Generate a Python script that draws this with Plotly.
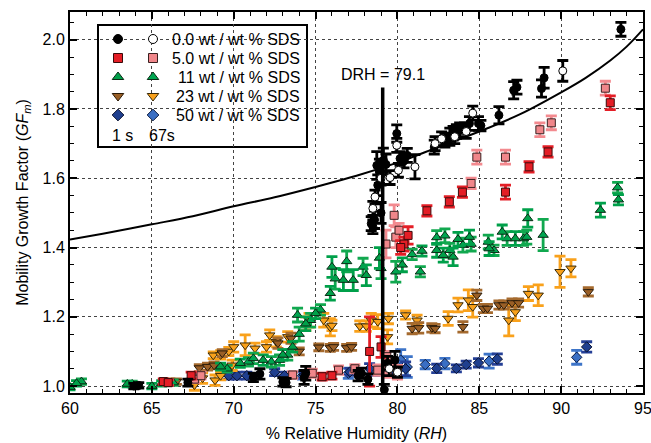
import plotly.graph_objects as go

# ---------------------------------------------------------------------------
# Measured mobility growth factors: (RH %, GFm, +/- uncertainty)
# ---------------------------------------------------------------------------
sds00_1s = [(63.9, 1.000, 0.008), (64.2, 1.002, 0.008), (67.2, 1.010, 0.010),
            (71.2, 1.025, 0.012), (71.6, 1.035, 0.015), (73.0, 1.012, 0.012),
            (73.2, 1.010, 0.012), (74.3, 1.025, 0.020), (74.4, 1.037, 0.020),
            (77.6, 1.030, 0.015), (77.8, 1.037, 0.015), (78.2, 1.020, 0.015),
            (78.4, 1.469, 0.020), (78.5, 1.460, 0.020), (78.6, 1.480, 0.025),
            (78.74, 1.637, 0.040), (78.8, 1.580, 0.030), (78.9, 1.620, 0.035),
            (79.0, 1.500, 0.030), (79.14, 1.652, 0.035), (79.3, 1.640, 0.030),
            (79.2, 0.990, 0.015), (79.4, 1.066, 0.020), (79.85, 1.075, 0.025),
            (79.96, 1.729, 0.025), (80.16, 1.657, 0.020), (80.6, 1.666, 0.020),
            (80.4, 1.650, 0.020), (82.25, 1.690, 0.020), (82.9, 1.710, 0.020),
            (83.2, 1.720, 0.025), (83.4, 1.730, 0.020), (83.6, 1.735, 0.020),
            (83.8, 1.740, 0.020), (84.1, 1.745, 0.015), (84.4, 1.758, 0.020),
            (84.95, 1.758, 0.020), (85.1, 1.752, 0.015), (86.2, 1.782, 0.025),
            (87.1, 1.854, 0.025), (87.3, 1.863, 0.020), (88.8, 1.859, 0.025),
            (88.96, 1.890, 0.030), (93.65, 2.030, 0.020)]

sds00_67s = [(78.5, 1.513, 0.020), (78.63, 1.546, 0.020), (79.0, 1.600, 0.020),
             (79.55, 1.602, 0.020), (79.96, 1.695, 0.020), (80.06, 1.623, 0.020),
             (81.07, 1.633, 0.035), (82.3, 1.700, 0.020), (82.7, 1.714, 0.020),
             (83.5, 1.720, 0.020), (84.2, 1.735, 0.020), (84.6, 1.788, 0.020),
             (90.1, 1.910, 0.030), (79.5, 1.050, 0.020), (80.0, 1.040, 0.015)]

sds05_1s = [(65.7, 1.013, 0.008), (66.0, 1.010, 0.008), (67.4, 1.030, 0.010),
            (75.4, 1.027, 0.010), (76.0, 1.030, 0.010), (78.3, 1.100, 0.100),
            (79.0, 1.113, 0.030), (80.4, 1.410, 0.020), (80.65, 1.435, 0.025),
            (80.2, 1.400, 0.020), (81.8, 1.506, 0.015), (83.17, 1.532, 0.015),
            (83.97, 1.560, 0.015), (86.6, 1.560, 0.020), (88.04, 1.633, 0.015),
            (89.2, 1.676, 0.015), (93.0, 1.818, 0.020)]

sds05_67s = [(66.0, 1.010, 0.008), (67.6, 1.020, 0.010), (68.0, 1.030, 0.010),
             (73.6, 1.032, 0.010), (74.8, 1.037, 0.012), (76.4, 1.046, 0.012),
             (77.4, 1.050, 0.012), (78.8, 1.046, 0.015), (79.35, 1.085, 0.015),
             (79.4, 1.040, 0.015), (80.0, 1.040, 0.020), (79.3, 1.410, 0.040),
             (79.8, 1.493, 0.030), (79.9, 1.430, 0.030), (80.1, 1.450, 0.020),
             (84.5, 1.585, 0.015), (84.85, 1.661, 0.020), (86.6, 1.661, 0.020),
             (88.7, 1.740, 0.020), (89.4, 1.760, 0.020), (92.7, 1.860, 0.020)]

sds11_1s = [(60.0, 0.997, 0.008), (60.4, 1.008, 0.008), (63.5, 1.006, 0.008),
            (65.0, 1.000, 0.008), (65.6, 1.008, 0.008), (69.2, 1.056, 0.010),
            (70.4, 1.066, 0.012), (71.8, 1.075, 0.015), (73.0, 1.090, 0.015),
            (73.6, 1.113, 0.015), (74.4, 1.180, 0.020), (75.0, 1.210, 0.015),
            (75.9, 1.268, 0.020), (76.0, 1.344, 0.030), (76.7, 1.306, 0.030),
            (77.3, 1.306, 0.030), (78.1, 1.320, 0.030), (78.9, 1.370, 0.030),
            (80.3, 1.350, 0.020), (81.5, 1.390, 0.015), (82.4, 1.392, 0.020),
            (82.8, 1.378, 0.020), (83.4, 1.373, 0.025), (83.7, 1.424, 0.020),
            (84.4, 1.430, 0.020), (85.6, 1.397, 0.020), (86.4, 1.445, 0.020),
            (87.2, 1.426, 0.020), (87.96, 1.484, 0.025), (92.4, 1.508, 0.020),
            (93.5, 1.538, 0.015)]

sds11_67s = [(60.7, 1.013, 0.008), (63.8, 1.006, 0.008), (66.0, 1.010, 0.008),
             (66.3, 1.010, 0.008), (69.6, 1.050, 0.010), (70.9, 1.070, 0.012),
             (71.2, 1.080, 0.015), (72.3, 1.070, 0.015), (72.8, 1.075, 0.015),
             (73.3, 1.090, 0.015), (73.9, 1.205, 0.020), (74.0, 1.150, 0.020),
             (74.7, 1.190, 0.020), (75.3, 1.220, 0.015), (76.2, 1.310, 0.030),
             (76.9, 1.360, 0.030), (77.9, 1.344, 0.025), (79.0, 1.340, 0.030),
             (79.9, 1.330, 0.030), (80.9, 1.380, 0.015), (81.4, 1.330, 0.015),
             (82.4, 1.429, 0.020), (82.9, 1.434, 0.020), (83.2, 1.392, 0.020),
             (84.0, 1.407, 0.020), (84.5, 1.410, 0.020), (85.55, 1.416, 0.020),
             (85.9, 1.392, 0.015), (86.7, 1.426, 0.020), (87.7, 1.426, 0.020),
             (87.9, 1.430, 0.020), (88.9, 1.436, 0.045), (93.45, 1.573, 0.015)]

sds23_1s = [(66.1, 1.013, 0.008), (66.5, 1.013, 0.008), (67.9, 1.052, 0.010),
            (68.4, 1.056, 0.010), (68.8, 1.060, 0.010), (69.3, 1.095, 0.010),
            (72.7, 1.124, 0.015), (73.5, 1.138, 0.015), (74.0, 1.100, 0.010),
            (75.2, 1.112, 0.010), (75.9, 1.110, 0.010), (76.1, 1.113, 0.010),
            (76.9, 1.110, 0.010), (77.2, 1.113, 0.010), (80.9, 1.166, 0.015),
            (81.3, 1.168, 0.015), (82.1, 1.168, 0.012), (82.3, 1.166, 0.012),
            (84.0, 1.171, 0.015), (84.85, 1.262, 0.015), (85.25, 1.224, 0.012),
            (85.5, 1.224, 0.012), (86.2, 1.234, 0.012), (86.5, 1.234, 0.012),
            (87.0, 1.240, 0.012), (87.4, 1.240, 0.012), (91.66, 1.272, 0.012)]

sds23_67s = [(67.6, 1.003, 0.015), (68.1, 1.023, 0.015), (68.86, 1.017, 0.015),
             (69.2, 1.030, 0.012), (68.75, 1.089, 0.010), (69.2, 1.090, 0.012),
             (69.7, 1.100, 0.012), (69.9, 1.060, 0.015), (70.0, 1.113, 0.015),
             (70.7, 1.118, 0.030), (71.3, 1.109, 0.015), (72.0, 1.113, 0.015),
             (72.2, 1.147, 0.015), (72.6, 1.128, 0.015), (73.3, 1.142, 0.015),
             (74.4, 1.180, 0.020), (74.6, 1.190, 0.020), (75.5, 1.190, 0.020),
             (75.9, 1.170, 0.025), (76.0, 1.175, 0.015), (77.7, 1.173, 0.015),
             (78.1, 1.173, 0.015), (78.4, 1.190, 0.020), (78.8, 1.186, 0.020),
             (79.45, 1.195, 0.015), (79.4, 1.142, 0.020), (80.5, 1.205, 0.012),
             (81.2, 1.190, 0.015), (83.1, 1.195, 0.020), (83.7, 1.234, 0.020),
             (84.33, 1.248, 0.030), (84.6, 1.229, 0.030), (86.8, 1.190, 0.045),
             (87.2, 1.214, 0.025), (88.0, 1.267, 0.020), (88.6, 1.262, 0.030),
             (89.93, 1.330, 0.045), (90.6, 1.340, 0.025)]

sds50_1s = [(67.5, 1.023, 0.010), (69.7, 1.030, 0.010), (70.2, 1.030, 0.010),
            (70.8, 1.030, 0.010), (72.5, 1.040, 0.010), (73.1, 1.030, 0.010),
            (74.3, 1.032, 0.010), (77.1, 1.041, 0.010), (78.3, 1.050, 0.015),
            (79.65, 1.048, 0.015), (80.5, 1.050, 0.020), (82.4, 1.051, 0.012),
            (83.6, 1.051, 0.010), (84.2, 1.062, 0.010), (84.95, 1.067, 0.012),
            (86.1, 1.078, 0.015), (91.56, 1.113, 0.015)]

sds50_67s = [(74.2, 1.030, 0.010), (77.0, 1.037, 0.015), (78.6, 1.045, 0.015),
             (80.2, 1.075, 0.030), (80.6, 1.055, 0.030), (81.7, 1.062, 0.012),
             (82.9, 1.065, 0.015), (85.6, 1.072, 0.020), (90.95, 1.083, 0.020)]

# Model growth curve for pure ammonium sulfate
curve_rh = [60, 62, 65, 67.5, 70, 72.5, 75, 77.5, 80, 82.5, 85, 87.5, 90, 91.5, 93, 94, 95]
curve_gf = [1.423, 1.440, 1.467, 1.490, 1.519, 1.545, 1.575, 1.607, 1.645, 1.690,
            1.735, 1.785, 1.848, 1.890, 1.940, 1.980, 2.030]

drh = 79.1
drh_line_gf = [0.98, 1.862]

legend_labels = ["0.0 wt / wt % SDS", "5.0 wt / wt % SDS", "11 wt / wt % SDS",
                 "23 wt / wt % SDS", "50 wt / wt % SDS"]
time_labels = ["1 s", "67s"]

# ---------------------------------------------------------------------------
FONT = "Arial"

styles = {
    "sds00_1s":  dict(symbol="circle", fill="#000000", edge="#000000", bar="#000000", size=8),
    "sds00_67s": dict(symbol="circle", fill="#ffffff", edge="#000000", bar="#000000", size=8),
    "sds05_1s":  dict(symbol="square", fill="#e41e26", edge="#3a0a0a", bar="#e41e26", size=8),
    "sds05_67s": dict(symbol="square", fill="#f0868a", edge="#3a2020", bar="#f38a8f", size=8),
    "sds11_1s":  dict(symbol="triangle-up", fill="#00a04a", edge="#0a2a14", bar="#00a04a", size=9),
    "sds11_67s": dict(symbol="triangle-up", fill="#00a651", edge="#0a2a14", bar="#11a84f", size=9),
    "sds23_1s":  dict(symbol="triangle-down", fill="#9a5f26", edge="#2a1a08", bar="#a56a2e", size=9),
    "sds23_67s": dict(symbol="triangle-down", fill="#f9a11b", edge="#3a2a08", bar="#f9a11b", size=9),
    "sds50_1s":  dict(symbol="diamond", fill="#1f3f8f", edge="#0a1230", bar="#243f96", size=8),
    "sds50_67s": dict(symbol="diamond", fill="#3a6fc4", edge="#0a1a40", bar="#3d74c8", size=8),
}

series = [
    ("sds50_67s", sds50_67s), ("sds50_1s", sds50_1s),
    ("sds23_67s", sds23_67s), ("sds23_1s", sds23_1s),
    ("sds11_67s", sds11_67s), ("sds11_1s", sds11_1s),
    ("sds05_67s", sds05_67s), ("sds05_1s", sds05_1s),
    ("sds00_1s", sds00_1s), ("sds00_67s", sds00_67s),
]

fig = go.Figure()

fig.add_trace(go.Scatter(x=curve_rh, y=curve_gf, mode="lines",
                         line=dict(color="black", width=2, shape="spline"),
                         showlegend=False, hoverinfo="skip"))

for key, pts in series:
    st = styles[key]
    xs = [p[0] for p in pts]
    ys = [p[1] for p in pts]
    es = [p[2] for p in pts]
    fig.add_trace(go.Scatter(
        x=xs, y=ys, mode="markers", showlegend=False,
        error_y=dict(type="data", array=es, visible=True,
                     color=st["bar"], thickness=2.8, width=5.5),
        marker=dict(symbol=st["symbol"], size=st["size"], color=st["fill"],
                    line=dict(color=st["edge"], width=1)),
    ))

fig.add_trace(go.Scatter(x=[drh, drh], y=drh_line_gf, mode="lines",
                         line=dict(color="black", width=3.5),
                         showlegend=False, hoverinfo="skip"))

# ---------------------------------------------------------------------------
# Legend panel, laid out on an overlay axis measured in pixels
# ---------------------------------------------------------------------------
plot_l, plot_r, plot_t, plot_b = 70, 643, 12, 393

row_y = [39, 58, 77, 96, 115]
col_x = [118, 153]
legend_keys = [("sds00_1s", "sds00_67s"), ("sds05_1s", "sds05_67s"),
               ("sds11_1s", "sds11_67s"), ("sds23_1s", "sds23_67s"),
               ("sds50_1s", "sds50_67s")]

for ry, (k1, k2) in zip(row_y, legend_keys):
    for cx, k in zip(col_x, (k1, k2)):
        st = styles[k]
        fig.add_trace(go.Scatter(
            x=[cx], y=[ry], xaxis="x2", yaxis="y2", mode="markers",
            showlegend=False, hoverinfo="skip",
            marker=dict(symbol=st["symbol"], size=st["size"] + 1, color=st["fill"],
                        line=dict(color=st["edge"], width=1)),
        ))

annotations = []
for ry, lab in zip(row_y, legend_labels):
    annotations.append(dict(x=302, y=ry, xref="x2", yref="y2", text=lab,
                            showarrow=False, xanchor="right", yanchor="middle",
                            font=dict(family=FONT, size=16, color="black")))
for cx, lab in zip([122, 162], time_labels):
    annotations.append(dict(x=cx, y=135, xref="x2", yref="y2", text=lab,
                            showarrow=False, xanchor="center", yanchor="middle",
                            font=dict(family=FONT, size=16, color="black")))
annotations.append(dict(x=drh, y=1.90, xref="x", yref="y", text=f"DRH = {drh}",
                        showarrow=False, xanchor="center", yanchor="middle",
                        font=dict(family=FONT, size=16, color="black")))

# legend frame, placed in plot-area fractions
def px_to_domain_x(px):
    return (px - plot_l) / (plot_r - plot_l)
def px_to_domain_y(py):
    return (plot_b - py) / (plot_b - plot_t)

shapes = [dict(type="rect", xref="x domain", yref="y domain",
               x0=px_to_domain_x(98), x1=px_to_domain_x(307),
               y0=px_to_domain_y(147), y1=px_to_domain_y(25),
               line=dict(color="black", width=2), fillcolor="white", layer="below")]

axis_common = dict(
    showline=True, linecolor="black", linewidth=2, mirror="allticks",
    ticks="inside", ticklen=7, tickwidth=1.5, tickcolor="black",
    showgrid=True, gridcolor="#444444", griddash="dot", gridwidth=1.2,
    zeroline=False, automargin=False, ticklabeloverflow="allow",
    tickfont=dict(family=FONT, size=16, color="black"),
)

fig.update_layout(
    width=651, height=443,
    margin=dict(l=plot_l, r=651 - plot_r, t=plot_t, b=443 - plot_b),
    plot_bgcolor="white", paper_bgcolor="white",
    font=dict(family=FONT, size=16, color="black"),
    xaxis=dict(range=[60, 95], tick0=60, dtick=5,
               minor=dict(dtick=1, ticks="inside", ticklen=4, tickcolor="black",
                          tickwidth=1.3, showgrid=False),
               title=dict(text="% Relative Humidity (<i>RH</i>)",
                          font=dict(family=FONT, size=16), standoff=12),
               **axis_common),
    yaxis=dict(range=[0.98, 2.08], tick0=1.0, dtick=0.2, tickformat=".1f",
               minor=dict(dtick=0.05, ticks="inside", ticklen=4, tickcolor="black",
                          tickwidth=1.3, showgrid=False),
               title=dict(text="Mobility Growth Factor (<i>GF</i><sub><i>m</i></sub>)",
                          font=dict(family=FONT, size=16), standoff=10),
               **axis_common),
    xaxis2=dict(overlaying="x", range=[plot_l, plot_r], visible=False),
    yaxis2=dict(overlaying="y", range=[plot_b, plot_t], visible=False),
    annotations=annotations,
    shapes=shapes,
    showlegend=False,
)

fig.write_html("out.html")
